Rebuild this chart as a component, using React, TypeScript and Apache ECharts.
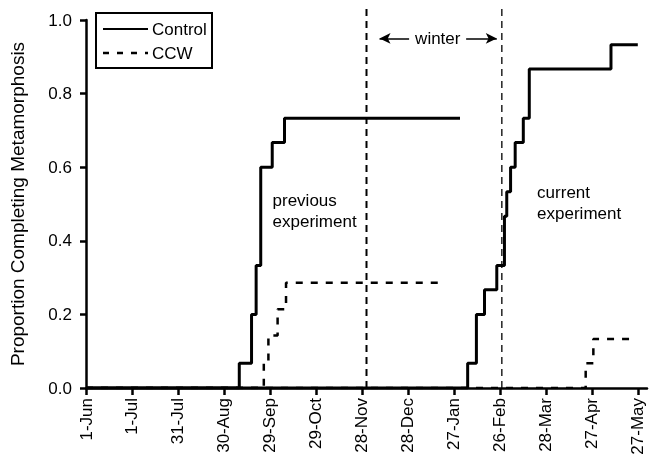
import React, { useEffect, useRef } from "react";
import * as echarts from "echarts";

// x values are days since 1-Jun
const xTickDays = [0, 30, 60, 90, 120, 150, 180, 210, 240, 270, 300, 330, 360];
const xTickLabels = ["1-Jun", "1-Jul", "31-Jul", "30-Aug", "29-Sep", "29-Oct", "28-Nov", "28-Dec", "27-Jan", "26-Feb", "28-Mar", "27-Apr", "27-May"];

const prevControlDays = [0, 100, 108, 111, 114, 121.5, 129.5, 244];
const prevControlVals = [0, 0.067, 0.2, 0.333, 0.6, 0.667, 0.733, 0.733];

const prevCCWDays = [0, 116, 119, 125, 130.5, 234];
const prevCCWVals = [0, 0.071, 0.143, 0.214, 0.286, 0.286];

const curControlDays = [0, 249, 254.7, 260, 268, 273, 274.5, 277, 280, 285.3, 289.2, 342.5, 360];
const curControlVals = [0, 0.067, 0.2, 0.267, 0.333, 0.467, 0.533, 0.6, 0.667, 0.733, 0.867, 0.933, 0.933];

const curCCWDays = [0, 326, 331, 358];
const curCCWVals = [0, 0.067, 0.133, 0.133];

const winterStartDay = 183;
const winterEndDay = 271.3;

const FONT = "'Liberation Sans', Arial, Helvetica, sans-serif";

const pairs = (xs: number[], ys: number[]) => xs.map((x, i) => [x, ys[i]]);

export default function App() {
  const ref = useRef<HTMLDivElement>(null);
  useEffect(() => {
    if (!ref.current) return;
    const chart = echarts.init(ref.current, null, { renderer: "svg" });
    const controlStyle = { color: "#000", width: 3, type: "solid" as const };
    const ccwStyle = { color: "#000", width: 2.5, type: [7, 8] as any };
    const option: any = {
      animation: false,
      grid: { left: 77, right: 2, top: 20, bottom: 77, containLabel: false },
      xAxis: {
        type: "value",
        min: 0,
        max: 366,
        splitLine: { show: false },
        axisLine: { show: true, lineStyle: { color: "#000", width: 2.5 } },
        axisTick: { show: true, length: 7, lineStyle: { color: "#000", width: 2.5 }, customValues: xTickDays },
        axisLabel: {
          rotate: 90,
          margin: 10,
          color: "#000",
          fontSize: 17,
          fontFamily: FONT,
          customValues: xTickDays,
          formatter: (v: number) => {
            const i = xTickDays.indexOf(Math.round(v));
            return i >= 0 ? xTickLabels[i] : "";
          },
        },
      },
      yAxis: {
        type: "value",
        min: 0,
        max: 1,
        interval: 0.2,
        splitLine: { show: false },
        axisLine: { show: true, lineStyle: { color: "#000", width: 2.5 } },
        axisTick: { show: true, length: 6, lineStyle: { color: "#000", width: 2.5 } },
        axisLabel: {
          margin: 14,
          color: "#000",
          fontSize: 17,
          fontFamily: FONT,
          formatter: (v: number) => v.toFixed(1),
        },
        name: "Proportion Completing Metamorphosis",
        nameLocation: "middle",
        nameGap: 59,
        nameTextStyle: { color: "#000", fontSize: 19, fontFamily: FONT },
      },
      series: [
        {
          type: "line", name: "Control prev", data: pairs(prevControlDays, prevControlVals),
          step: "end", showSymbol: false, symbol: "none", lineStyle: controlStyle, z: 5,
        },
        {
          type: "line", name: "CCW prev", data: pairs(prevCCWDays, prevCCWVals),
          step: "end", showSymbol: false, symbol: "none", lineStyle: ccwStyle, z: 4,
        },
        {
          type: "line", name: "Control cur", data: pairs(curControlDays, curControlVals),
          step: "end", showSymbol: false, symbol: "none", lineStyle: controlStyle, z: 5,
        },
        {
          type: "line", name: "CCW cur", data: pairs(curCCWDays, curCCWVals),
          step: "end", showSymbol: false, symbol: "none", lineStyle: ccwStyle, z: 4,
        },
        {
          type: "line", name: "winter start", data: [[winterStartDay, 0], [winterStartDay, 1.03]],
          showSymbol: false, symbol: "none", clip: false,
          lineStyle: { color: "#000", width: 2, type: [7, 5] }, z: 3,
          markLine: {
            silent: true,
            symbol: ["none", "arrow"],
            symbolSize: [8, 11],
            label: { show: false },
            lineStyle: { color: "#000", width: 1.5, type: "solid" },
            data: [
              [{ coord: [210.8, 0.95] }, { coord: [191.5, 0.95] }],
              [{ coord: [248, 0.95] }, { coord: [268, 0.95] }],
            ],
          },
        },
        {
          type: "line", name: "winter end", data: [[winterEndDay, 0], [winterEndDay, 1.03]],
          showSymbol: false, symbol: "none", clip: false,
          lineStyle: { color: "#000", width: 1.3, type: [7, 5] }, z: 3,
        },
      ],
    };
    chart.setOption(option);

    const px = (d: number, v: number) => chart.convertToPixel({ gridIndex: 0 }, [d, v]) as number[];
    const w = px(229.5, 0.95);
    const p = px(121.7, 0.481);
    const c = px(294.3, 0.503);
    const textStyle = { fill: "#000", fontSize: 17, fontFamily: FONT, lineHeight: 21 };
    chart.setOption({
      graphic: [
        { type: "text", x: w[0], y: w[1], style: { ...textStyle, text: "winter", align: "center", verticalAlign: "middle" } },
        { type: "text", x: p[0], y: p[1], style: { ...textStyle, text: "previous\nexperiment", align: "left", verticalAlign: "middle" } },
        { type: "text", x: c[0], y: c[1], style: { ...textStyle, text: "current\nexperiment", align: "left", verticalAlign: "middle" } },
        {
          type: "group",
          children: [
            { type: "rect", shape: { x: 96, y: 13, width: 116, height: 55 }, style: { fill: "#fff", stroke: "#000", lineWidth: 2 } },
            { type: "line", shape: { x1: 103, y1: 29, x2: 148, y2: 29 }, style: { stroke: "#000", lineWidth: 2 } },
            { type: "line", shape: { x1: 103, y1: 53, x2: 148, y2: 53 }, style: { stroke: "#000", lineWidth: 2.5, lineDash: [6, 8] } },
            { type: "text", x: 152, y: 29, style: { ...textStyle, text: "Control", verticalAlign: "middle" } },
            { type: "text", x: 152, y: 53, style: { ...textStyle, text: "CCW", verticalAlign: "middle" } },
          ],
        },
      ],
    });
    return () => chart.dispose();
  }, []);
  return <div ref={ref} style={{ position: "fixed", left: 0, top: 0, width: 649, height: 465 }} />;
}
